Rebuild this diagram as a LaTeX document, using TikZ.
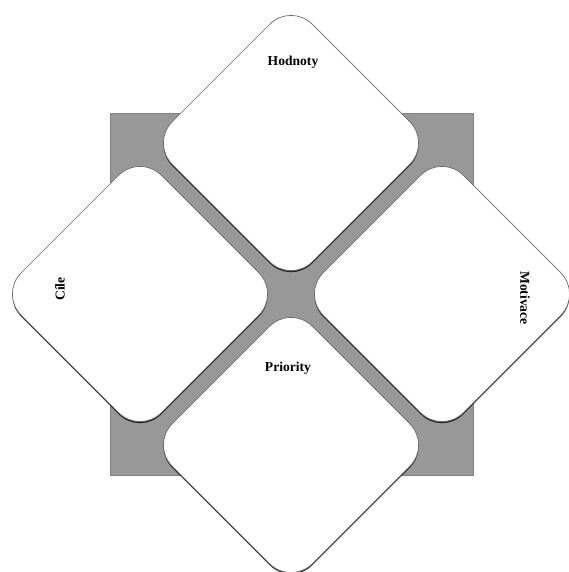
\documentclass[tikz,border=0pt]{standalone}
\usepackage{fontspec}
\setmainfont{Liberation Serif}
\usetikzlibrary{shadows}
\definecolor{panelgray}{RGB}{152,152,152}
\definecolor{edgegray}{RGB}{105,105,105}
\tikzset{
  x=1pt, y=1pt,
  petal/.style={draw=edgegray, line width=0.7pt, fill=white, rounded corners=30pt,
    minimum size=198pt, inner sep=0pt, rotate=45,
    drop shadow={shadow xshift=0pt, shadow yshift=-1.6pt, opacity=0.75, fill=black}},
  lbl/.style={font=\fontsize{13.6}{16}\selectfont\bfseries, inner sep=0pt}
}
\begin{document}
\begin{tikzpicture}
\useasboundingbox (0,0) rectangle (569,-572);
\node[draw=panelgray!85!black, line width=0.5pt, fill=panelgray, minimum width=363pt, minimum height=362pt, inner sep=0pt] (panel) at (291.5,-294) {};
\node[petal] (top) at (291,-143) {};
\node[petal] (left) at (140,-294) {};
\node[petal] (right) at (442,-294) {};
\node[petal] (bottom) at (291,-445) {};
\node[lbl] (hodnoty) at (293,-62) {Hodnoty};
\node[lbl, rotate=90] (cile) at (60,-289) {Cíle};
\node[lbl, rotate=-90] (motivace) at (525,-298) {Motivace};
\node[lbl] (priority) at (288,-368) {Priority};
\end{tikzpicture}
\end{document}
